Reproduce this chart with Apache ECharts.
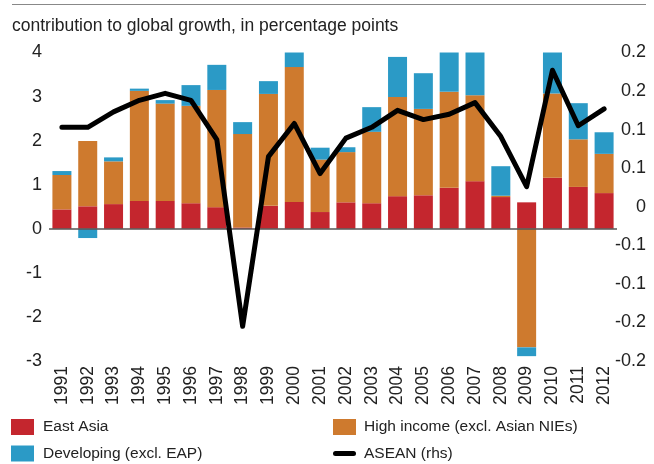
<!DOCTYPE html>
<html>
<head>
<meta charset="utf-8">
<script src="https://cdn.jsdelivr.net/npm/echarts@6/dist/echarts.min.js"></script>
<style>
html,body{margin:0;padding:0;background:#fff;}
#chart{width:654px;height:464px;}
</style>
</head>
<body>
<div id="chart"></div>
<script>
const years = ['1991','1992','1993','1994','1995','1996','1997','1998','1999','2000','2001','2002','2003','2004','2005','2006','2007','2008','2009','2010','2011','2012'];
const eastAsia   = [0.44,0.51,0.56,0.63,0.63,0.58,0.49,0.03,0.52,0.61,0.38,0.60,0.58,0.74,0.76,0.93,1.08,0.72,0.60,1.16,0.95,0.81];
const highIncome = [0.78,1.48,0.97,2.50,2.21,2.21,2.66,2.12,2.54,3.06,1.19,1.14,1.62,2.25,1.96,2.18,1.95,0.03,-2.69,1.91,1.08,0.89];
const developing = [0.09,-0.21,0.09,0.05,0.08,0.47,0.57,0.27,0.29,0.34,0.27,0.11,0.56,0.91,0.81,0.90,0.98,0.67,-0.20,0.97,0.82,0.49];
const asean      = [0.103,0.103,0.123,0.138,0.147,0.138,0.087,-0.155,0.065,0.108,0.043,0.089,0.103,0.125,0.113,0.120,0.135,0.091,0.026,0.177,0.105,0.127];
const rightTickLabels = ['-0.2','-0.2','-0.1','-0.1','0','0.1','0.1','0.2','0.2'];
const titleText = 'contribution to global growth, in percentage points';

const FONT = '"Liberation Sans", Arial, sans-serif';
const TXT = '#222';

const chart = echarts.init(document.getElementById('chart'), null, {renderer: 'canvas'});
chart.setOption({
  animation: false,
  backgroundColor: '#fff',
  textStyle: {fontFamily: FONT},
  title: {
    text: titleText, left: 7, top: 12,
    textStyle: {fontFamily: FONT, fontSize: 17.5, fontWeight: 'normal', color: TXT}
  },
  graphic: [{
    type: 'line', shape: {x1: 12, y1: 4.5, x2: 646, y2: 4.5},
    style: {stroke: '#888', lineWidth: 1}
  }],
  legend: [{
    orient: 'vertical', left: 11, top: 419, padding: 0, itemWidth: 23, itemHeight: 16, itemGap: 10.5,
    icon: 'rect',
    data: ['East Asia', 'Developing (excl. EAP)'],
    textStyle: {fontFamily: FONT, fontSize: 15.5, color: TXT, padding: [0,0,0,4]}
  }, {
    orient: 'vertical', left: 333, top: 419, padding: 0, itemWidth: 23, itemHeight: 16, itemGap: 10.5,
    data: [{name: 'High income (excl. Asian NIEs)', icon: 'rect'},
           {name: 'ASEAN (rhs)', icon: 'path://M2.5,0 H20.5 A2.5,2.5 0 0 1 20.5,5 H2.5 A2.5,2.5 0 0 1 2.5,0 Z'}],
    textStyle: {fontFamily: FONT, fontSize: 15.5, color: TXT, padding: [0,0,0,3]}
  }],
  grid: {left: 49, right: 37, top: 52.5, bottom: 103, containLabel: false},
  xAxis: {
    type: 'category', data: years,
    axisLine: {show: false}, axisTick: {show: false},
    axisLabel: {rotate: 90, interval: 0, margin: 5, fontSize: 17.5, color: TXT, fontFamily: FONT}
  },
  yAxis: [{
    type: 'value', min: -3, max: 4, interval: 1,
    axisLine: {show: false}, axisTick: {show: false}, splitLine: {show: false},
    axisLabel: {fontSize: 18, color: TXT, margin: 7, fontFamily: FONT}
  }, {
    type: 'value', min: -0.2, max: 0.2, interval: 0.05, position: 'right',
    axisLine: {show: false}, axisTick: {show: false}, splitLine: {show: false},
    axisLabel: {
      fontSize: 18, color: TXT, margin: 29, align: 'right', fontFamily: FONT,
      formatter: function (v) { return rightTickLabels[Math.round((v + 0.2) / 0.05)]; }
    }
  }],
  series: [{
    name: 'East Asia', type: 'bar', stack: 'g', data: eastAsia, barWidth: 19,
    itemStyle: {color: '#C4262E'},
    markLine: {
      silent: true, symbol: 'none', label: {show: false},
      lineStyle: {color: '#555', type: 'solid', width: 1.5},
      data: [{yAxis: 0}]
    }
  }, {
    name: 'High income (excl. Asian NIEs)', type: 'bar', stack: 'g', data: highIncome, barWidth: 19,
    itemStyle: {color: '#CE7A2E'}
  }, {
    name: 'Developing (excl. EAP)', type: 'bar', stack: 'g', data: developing, barWidth: 19,
    itemStyle: {color: '#2B9AC6'}
  }, {
    name: 'ASEAN (rhs)', type: 'line', yAxisIndex: 1, data: asean, symbol: 'none', z: 5,
    lineStyle: {color: '#000', width: 5, cap: 'round', join: 'round'},
    itemStyle: {color: '#000'}
  }]
});
</script>
</body>
</html>
